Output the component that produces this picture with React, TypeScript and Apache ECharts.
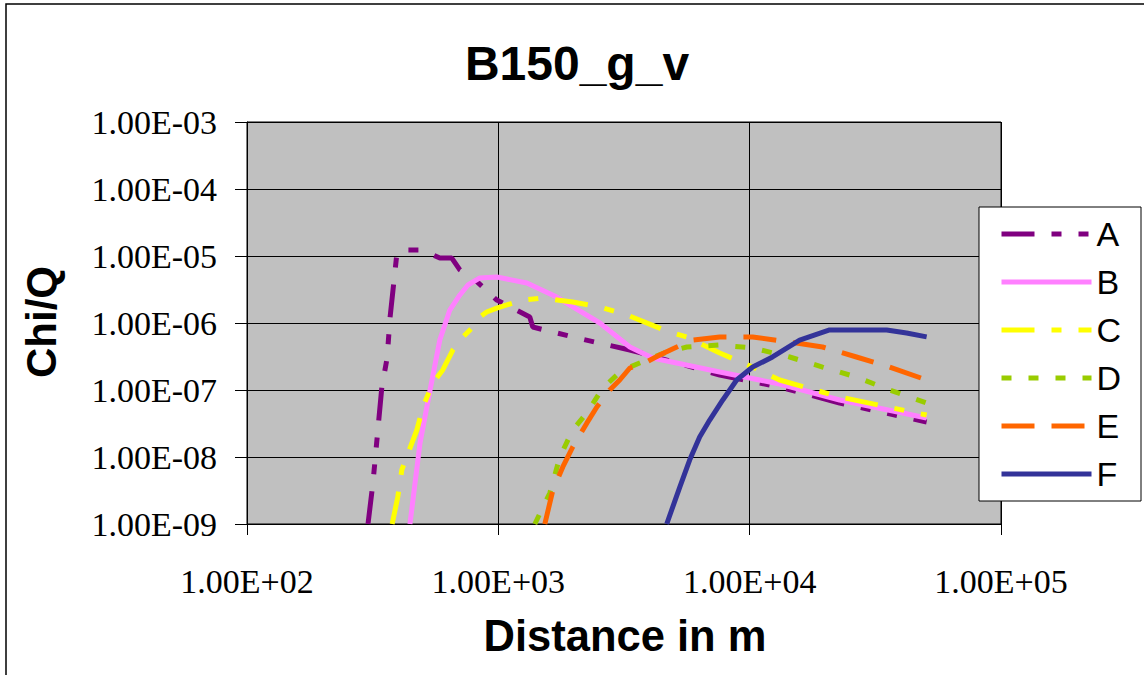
import React, { useEffect, useRef } from "react";
import * as echarts from "echarts";

const seriesNames = ["A", "B", "C", "D", "E", "F"];
const seriesColors = ["#800080", "#FF80FF", "#FFFF00", "#99CC00", "#FF6600", "#333399"];

const aDistance = [303, 317, 344, 361, 371, 381, 395, 413, 501, 585, 653, 703, 785, 986, 1334, 1371, 1977, 2534, 3336, 4385, 7603, 13150, 22800, 50600];
const aChiQ = [1e-9, 4.09e-9, 1.11e-7, 3.0e-7, 1.23e-6, 3.11e-6, 1.11e-5, 1.23e-5, 1.23e-5, 9.3e-6, 9.3e-6, 6.2e-6, 4.86e-6, 2.2e-6, 1.23e-6, 8.7e-7, 6.2e-7, 5.0e-7, 3.95e-7, 3.0e-7, 1.67e-7, 1.11e-7, 6.4e-8, 3.33e-8];

const bDistance = [445, 488, 535, 585, 641, 703, 757, 844, 986, 1298, 1708, 2534, 3336, 4111, 7603, 13150, 22800, 50600];
const bChiQ = [1e-9, 1.62e-8, 1e-7, 5.57e-7, 1.56e-6, 2.62e-6, 3.69e-6, 4.7e-6, 4.86e-6, 3.95e-6, 2.44e-6, 1e-6, 4.38e-7, 3.0e-7, 1.86e-7, 1.23e-7, 7.1e-8, 3.82e-8];

const cDistance = [378, 398, 413, 445, 474, 501, 549, 601, 659, 723, 792, 844, 899, 986, 1250, 1503, 1977, 2534, 3243, 4808, 5623, 7603, 10280, 13150, 22800, 50600];
const cChiQ = [1e-9, 2.53e-9, 6.4e-9, 1.36e-8, 2.53e-8, 5.57e-8, 1.27e-7, 1.99e-7, 3.95e-7, 6.2e-7, 8.7e-7, 1.23e-6, 1.46e-6, 1.67e-6, 2.2e-6, 2.36e-6, 2.06e-6, 1.73e-6, 1.32e-6, 7.3e-7, 6.2e-7, 3.56e-7, 2.2e-7, 1.41e-7, 7.87e-8, 4.23e-8];

const dDistance = [1397, 1603, 1757, 1977, 2249, 2604, 2960, 3336, 3892, 4677, 5623, 7603, 10280, 14420, 19500, 26600, 36000, 50600];
const dChiQ = [1e-9, 2.9e-9, 1e-8, 2.53e-8, 4.54e-8, 1.07e-7, 1.67e-7, 2.2e-7, 2.8e-7, 3.69e-7, 4.38e-7, 4.7e-7, 4.23e-7, 3.11e-7, 2.2e-7, 1.56e-7, 1e-7, 6.4e-8];

const eDistance = [1531, 1648, 1805, 1977, 2249, 2466, 2775, 3041, 3336, 3892, 4385, 5128, 5930, 7603, 10280, 14420, 19500, 26600, 36000, 50600];
const eChiQ = [1e-9, 3.2e-9, 7.1e-9, 1.41e-8, 3.2e-8, 5.57e-8, 1e-7, 1.41e-7, 2.13e-7, 2.62e-7, 3.33e-7, 4.38e-7, 5.57e-7, 6.2e-7, 6.2e-7, 5.2e-7, 4.38e-7, 3.11e-7, 2.2e-7, 1.41e-7];

const fDistance = [4677, 5272, 5770, 6324, 6934, 7816, 8878, 10280, 12330, 15810, 20800, 35100, 42100, 50600];
const fChiQ = [1e-9, 3.56e-9, 9.0e-9, 1.99e-8, 3.56e-8, 7.1e-8, 1.41e-7, 2.2e-7, 3.11e-7, 5.57e-7, 7.87e-7, 7.87e-7, 7.1e-7, 6.2e-7];

const xTickValues = [100, 1000, 10000, 100000];
const xTickLabels = ["1.00E+02", "1.00E+03", "1.00E+04", "1.00E+05"];
const yTickValues = [1e-9, 1e-8, 1e-7, 1e-6, 1e-5, 1e-4, 1e-3];
const yTickLabels = ["1.00E-09", "1.00E-08", "1.00E-07", "1.00E-06", "1.00E-05", "1.00E-04", "1.00E-03"];

const distances = [aDistance, bDistance, cDistance, dDistance, eDistance, fDistance];
const chiQs = [aChiQ, bChiQ, cChiQ, dChiQ, eChiQ, fChiQ];
const dashes: (number[] | "solid")[] = [
  [33, 17, 10, 17, 10, 17],
  "solid",
  [33, 17, 10, 17],
  [10, 17],
  [33, 17],
  "solid",
];

function tickLabel(values: number[], labels: string[], v: number): string {
  let best = 0;
  let bestErr = Infinity;
  for (let i = 0; i < values.length; i++) {
    const err = Math.abs(Math.log10(v) - Math.log10(values[i]));
    if (err < bestErr) {
      bestErr = err;
      best = i;
    }
  }
  return labels[best];
}

export default function App() {
  const ref = useRef<HTMLDivElement>(null);
  useEffect(() => {
    if (!ref.current) return;
    const chart = echarts.init(ref.current, undefined, { renderer: "svg" });
    const series = seriesNames.map((name, i) => ({
      name,
      type: "line",
      symbol: "none",
      showSymbol: false,
      clip: true,
      color: seriesColors[i],
      lineStyle: { color: seriesColors[i], width: 5, type: dashes[i], cap: "butt" },
      itemStyle: { color: seriesColors[i] },
      data: distances[i].map((d, j) => [d, chiQs[i][j]]),
      z: 2 + i * 0.01,
    }));
    chart.setOption({
      animation: false,
      backgroundColor: "#ffffff",
      grid: {
        left: 247,
        top: 122,
        width: 754,
        height: 402,
        show: true,
        backgroundColor: "#C0C0C0",
        borderColor: "#000000",
        borderWidth: 1,
      },
      xAxis: {
        type: "log",
        logBase: 10,
        min: 100,
        max: 100000,
        splitNumber: 3,
        axisLine: { show: true, lineStyle: { color: "#000", width: 1 } },
        axisTick: { show: true, length: 11, lineStyle: { color: "#000", width: 1 } },
        splitLine: { show: true, lineStyle: { color: "#000", width: 1 } },
        minorTick: { show: false },
        axisLabel: {
          margin: 40,
          color: "#000",
          fontFamily: "Liberation Serif",
          fontSize: 34,
          formatter: (v: number) => tickLabel(xTickValues, xTickLabels, v),
        },
      },
      yAxis: {
        type: "log",
        logBase: 10,
        min: 1e-9,
        max: 1e-3,
        splitNumber: 6,
        axisLine: { show: true, lineStyle: { color: "#000", width: 1 } },
        axisTick: { show: true, length: 12, lineStyle: { color: "#000", width: 1 } },
        splitLine: { show: true, lineStyle: { color: "#000", width: 1 } },
        axisLabel: {
          margin: 30,
          color: "#000",
          fontFamily: "Liberation Serif",
          fontSize: 34,
          formatter: (v: number) => tickLabel(yTickValues, yTickLabels, v),
        },
      },
      legend: {
        data: seriesNames,
        orient: "vertical",
        left: 999,
        top: 217,
        padding: 0,
        itemWidth: 90,
        itemHeight: 14,
        itemGap: 14,
        selectedMode: false,
        z: 20,
        itemStyle: { opacity: 0 },
        lineStyle: { width: 5 },
        textStyle: { fontFamily: "Liberation Sans", fontSize: 34, color: "#000", lineHeight: 34 },
      },
      graphic: [
        {
          type: "rect",
          silent: true,
          z: -1,
          shape: { x: 6, y: 4, width: 1160, height: 700 },
          style: { fill: "none", stroke: "#000", lineWidth: 1.5 },
        },
        {
          type: "rect",
          silent: true,
          z: 10,
          shape: { x: 979, y: 207, width: 162, height: 294 },
          style: { fill: "#ffffff", stroke: "#000", lineWidth: 1 },
        },
        {
          type: "text",
          x: 577,
          y: 63,
          z: 10,
          style: {
            text: "B150_g_v",
            fontFamily: "Liberation Sans",
            fontWeight: "bold",
            fontSize: 48,
            fill: "#000",
            textAlign: "center",
            textVerticalAlign: "middle",
          },
        },
        {
          type: "text",
          x: 625,
          y: 636,
          z: 10,
          style: {
            text: "Distance in m",
            fontFamily: "Liberation Sans",
            fontWeight: "bold",
            fontSize: 43.5,
            fill: "#000",
            textAlign: "center",
            textVerticalAlign: "middle",
          },
        },
        {
          type: "text",
          x: 41,
          y: 322,
          rotation: Math.PI / 2,
          z: 10,
          style: {
            text: "Chi/Q",
            fontFamily: "Liberation Sans",
            fontWeight: "bold",
            fontSize: 42,
            fill: "#000",
            textAlign: "center",
            textVerticalAlign: "middle",
          },
        },
      ],
      series,
    });
    return () => chart.dispose();
  }, []);
  return (
    <div
      ref={ref}
      style={{ position: "absolute", left: 0, top: 0, width: 1144, height: 675, background: "#fff" }}
    />
  );
}
